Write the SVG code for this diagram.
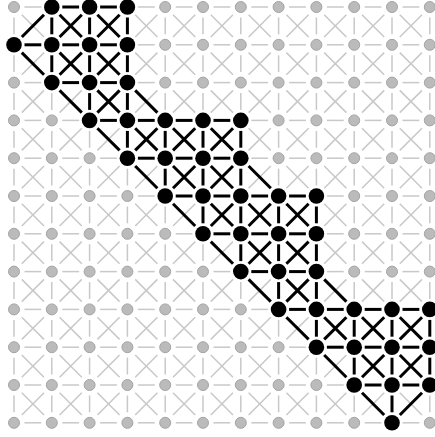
<svg xmlns="http://www.w3.org/2000/svg" width="435" height="437" viewBox="0 0 435 437">
<style>
.g path{stroke:#c8c8c8;stroke-width:1.5;fill:none}
.k path{stroke:#000;stroke-width:3;fill:none}
.gn{fill:#bbbbbb;stroke:#a4a4a4;stroke-width:1}
.bn{fill:#000}
</style>
<rect width="435" height="437" fill="#fff"/>
<g id="connectors">
<g class="g">
<path d="M24.5 7h16.8"/><path d="M137.9 7h16.8"/><path d="M175.7 7h16.8"/><path d="M213.5 7h16.8"/><path d="M251.3 7h16.8"/><path d="M289.1 7h16.8"/><path d="M326.9 7h16.8"/><path d="M364.7 7h16.8"/><path d="M402.5 7h16.8"/>
<path d="M14 17.5v16.8"/><path d="M165.2 17.5v16.8"/><path d="M203 17.5v16.8"/><path d="M240.8 17.5v16.8"/><path d="M278.6 17.5v16.8"/><path d="M316.4 17.5v16.8"/><path d="M354.2 17.5v16.8"/><path d="M392 17.5v16.8"/><path d="M429.8 17.5v16.8"/>
<path d="M21.8 14.8l22.2 22.2"/><path d="M135.2 14.8l22.2 22.2"/><path d="M173 14.8l22.2 22.2"/><path d="M210.8 14.8l22.2 22.2"/><path d="M248.6 14.8l22.2 22.2"/><path d="M286.4 14.8l22.2 22.2"/><path d="M324.2 14.8l22.2 22.2"/><path d="M362 14.8l22.2 22.2"/><path d="M399.8 14.8l22.2 22.2"/>
<path d="M157.4 14.8l-22.2 22.2"/><path d="M195.2 14.8l-22.2 22.2"/><path d="M233 14.8l-22.2 22.2"/><path d="M270.8 14.8l-22.2 22.2"/><path d="M308.6 14.8l-22.2 22.2"/><path d="M346.4 14.8l-22.2 22.2"/><path d="M384.2 14.8l-22.2 22.2"/><path d="M422 14.8l-22.2 22.2"/>

<path d="M137.9 44.8h16.8"/><path d="M175.7 44.8h16.8"/><path d="M213.5 44.8h16.8"/><path d="M251.3 44.8h16.8"/><path d="M289.1 44.8h16.8"/><path d="M326.9 44.8h16.8"/><path d="M364.7 44.8h16.8"/><path d="M402.5 44.8h16.8"/>
<path d="M14 55.3v16.8"/><path d="M165.2 55.3v16.8"/><path d="M203 55.3v16.8"/><path d="M240.8 55.3v16.8"/><path d="M278.6 55.3v16.8"/><path d="M316.4 55.3v16.8"/><path d="M354.2 55.3v16.8"/><path d="M392 55.3v16.8"/><path d="M429.8 55.3v16.8"/>
<path d="M135.2 52.6l22.2 22.2"/><path d="M173 52.6l22.2 22.2"/><path d="M210.8 52.6l22.2 22.2"/><path d="M248.6 52.6l22.2 22.2"/><path d="M286.4 52.6l22.2 22.2"/><path d="M324.2 52.6l22.2 22.2"/><path d="M362 52.6l22.2 22.2"/><path d="M399.8 52.6l22.2 22.2"/>
<path d="M44 52.6l-22.2 22.2"/><path d="M157.4 52.6l-22.2 22.2"/><path d="M195.2 52.6l-22.2 22.2"/><path d="M233 52.6l-22.2 22.2"/><path d="M270.8 52.6l-22.2 22.2"/><path d="M308.6 52.6l-22.2 22.2"/><path d="M346.4 52.6l-22.2 22.2"/><path d="M384.2 52.6l-22.2 22.2"/><path d="M422 52.6l-22.2 22.2"/>

<path d="M24.5 82.6h16.8"/><path d="M137.9 82.6h16.8"/><path d="M175.7 82.6h16.8"/><path d="M213.5 82.6h16.8"/><path d="M251.3 82.6h16.8"/><path d="M289.1 82.6h16.8"/><path d="M326.9 82.6h16.8"/><path d="M364.7 82.6h16.8"/><path d="M402.5 82.6h16.8"/>
<path d="M14 93.1v16.8"/><path d="M51.8 93.1v16.8"/><path d="M165.2 93.1v16.8"/><path d="M203 93.1v16.8"/><path d="M240.8 93.1v16.8"/><path d="M278.6 93.1v16.8"/><path d="M316.4 93.1v16.8"/><path d="M354.2 93.1v16.8"/><path d="M392 93.1v16.8"/><path d="M429.8 93.1v16.8"/>
<path d="M21.8 90.4l22.2 22.2"/><path d="M173 90.4l22.2 22.2"/><path d="M210.8 90.4l22.2 22.2"/><path d="M248.6 90.4l22.2 22.2"/><path d="M286.4 90.4l22.2 22.2"/><path d="M324.2 90.4l22.2 22.2"/><path d="M362 90.4l22.2 22.2"/><path d="M399.8 90.4l22.2 22.2"/>
<path d="M44 90.4l-22.2 22.2"/><path d="M81.8 90.4l-22.2 22.2"/><path d="M157.4 90.4l-22.2 22.2"/><path d="M195.2 90.4l-22.2 22.2"/><path d="M233 90.4l-22.2 22.2"/><path d="M270.8 90.4l-22.2 22.2"/><path d="M308.6 90.4l-22.2 22.2"/><path d="M346.4 90.4l-22.2 22.2"/><path d="M384.2 90.4l-22.2 22.2"/><path d="M422 90.4l-22.2 22.2"/>

<path d="M24.5 120.4h16.8"/><path d="M62.3 120.4h16.8"/><path d="M251.3 120.4h16.8"/><path d="M289.1 120.4h16.8"/><path d="M326.9 120.4h16.8"/><path d="M364.7 120.4h16.8"/><path d="M402.5 120.4h16.8"/>
<path d="M14 130.9v16.8"/><path d="M51.8 130.9v16.8"/><path d="M89.6 130.9v16.8"/><path d="M278.6 130.9v16.8"/><path d="M316.4 130.9v16.8"/><path d="M354.2 130.9v16.8"/><path d="M392 130.9v16.8"/><path d="M429.8 130.9v16.8"/>
<path d="M21.8 128.2l22.2 22.2"/><path d="M59.6 128.2l22.2 22.2"/><path d="M248.6 128.2l22.2 22.2"/><path d="M286.4 128.2l22.2 22.2"/><path d="M324.2 128.2l22.2 22.2"/><path d="M362 128.2l22.2 22.2"/><path d="M399.8 128.2l22.2 22.2"/>
<path d="M44 128.2l-22.2 22.2"/><path d="M81.8 128.2l-22.2 22.2"/><path d="M119.6 128.2l-22.2 22.2"/><path d="M270.8 128.2l-22.2 22.2"/><path d="M308.6 128.2l-22.2 22.2"/><path d="M346.4 128.2l-22.2 22.2"/><path d="M384.2 128.2l-22.2 22.2"/><path d="M422 128.2l-22.2 22.2"/>

<path d="M24.5 158.2h16.8"/><path d="M62.3 158.2h16.8"/><path d="M100.1 158.2h16.8"/><path d="M251.3 158.2h16.8"/><path d="M289.1 158.2h16.8"/><path d="M326.9 158.2h16.8"/><path d="M364.7 158.2h16.8"/><path d="M402.5 158.2h16.8"/>
<path d="M14 168.7v16.8"/><path d="M51.8 168.7v16.8"/><path d="M89.6 168.7v16.8"/><path d="M127.4 168.7v16.8"/><path d="M278.6 168.7v16.8"/><path d="M316.4 168.7v16.8"/><path d="M354.2 168.7v16.8"/><path d="M392 168.7v16.8"/><path d="M429.8 168.7v16.8"/>
<path d="M21.8 166l22.2 22.2"/><path d="M59.6 166l22.2 22.2"/><path d="M97.4 166l22.2 22.2"/><path d="M286.4 166l22.2 22.2"/><path d="M324.2 166l22.2 22.2"/><path d="M362 166l22.2 22.2"/><path d="M399.8 166l22.2 22.2"/>
<path d="M44 166l-22.2 22.2"/><path d="M81.8 166l-22.2 22.2"/><path d="M119.6 166l-22.2 22.2"/><path d="M157.4 166l-22.2 22.2"/><path d="M270.8 166l-22.2 22.2"/><path d="M308.6 166l-22.2 22.2"/><path d="M346.4 166l-22.2 22.2"/><path d="M384.2 166l-22.2 22.2"/><path d="M422 166l-22.2 22.2"/>

<path d="M24.5 196h16.8"/><path d="M62.3 196h16.8"/><path d="M100.1 196h16.8"/><path d="M137.9 196h16.8"/><path d="M326.9 196h16.8"/><path d="M364.7 196h16.8"/><path d="M402.5 196h16.8"/>
<path d="M14 206.5v16.8"/><path d="M51.8 206.5v16.8"/><path d="M89.6 206.5v16.8"/><path d="M127.4 206.5v16.8"/><path d="M165.2 206.5v16.8"/><path d="M354.2 206.5v16.8"/><path d="M392 206.5v16.8"/><path d="M429.8 206.5v16.8"/>
<path d="M21.8 203.8l22.2 22.2"/><path d="M59.6 203.8l22.2 22.2"/><path d="M97.4 203.8l22.2 22.2"/><path d="M135.2 203.8l22.2 22.2"/><path d="M324.2 203.8l22.2 22.2"/><path d="M362 203.8l22.2 22.2"/><path d="M399.8 203.8l22.2 22.2"/>
<path d="M44 203.8l-22.2 22.2"/><path d="M81.8 203.8l-22.2 22.2"/><path d="M119.6 203.8l-22.2 22.2"/><path d="M157.4 203.8l-22.2 22.2"/><path d="M195.2 203.8l-22.2 22.2"/><path d="M346.4 203.8l-22.2 22.2"/><path d="M384.2 203.8l-22.2 22.2"/><path d="M422 203.8l-22.2 22.2"/>

<path d="M24.5 233.8h16.8"/><path d="M62.3 233.8h16.8"/><path d="M100.1 233.8h16.8"/><path d="M137.9 233.8h16.8"/><path d="M175.7 233.8h16.8"/><path d="M326.9 233.8h16.8"/><path d="M364.7 233.8h16.8"/><path d="M402.5 233.8h16.8"/>
<path d="M14 244.3v16.8"/><path d="M51.8 244.3v16.8"/><path d="M89.6 244.3v16.8"/><path d="M127.4 244.3v16.8"/><path d="M165.2 244.3v16.8"/><path d="M203 244.3v16.8"/><path d="M354.2 244.3v16.8"/><path d="M392 244.3v16.8"/><path d="M429.8 244.3v16.8"/>
<path d="M21.8 241.6l22.2 22.2"/><path d="M59.6 241.6l22.2 22.2"/><path d="M97.4 241.6l22.2 22.2"/><path d="M135.2 241.6l22.2 22.2"/><path d="M173 241.6l22.2 22.2"/><path d="M324.2 241.6l22.2 22.2"/><path d="M362 241.6l22.2 22.2"/><path d="M399.8 241.6l22.2 22.2"/>
<path d="M44 241.6l-22.2 22.2"/><path d="M81.8 241.6l-22.2 22.2"/><path d="M119.6 241.6l-22.2 22.2"/><path d="M157.4 241.6l-22.2 22.2"/><path d="M195.2 241.6l-22.2 22.2"/><path d="M233 241.6l-22.2 22.2"/><path d="M346.4 241.6l-22.2 22.2"/><path d="M384.2 241.6l-22.2 22.2"/><path d="M422 241.6l-22.2 22.2"/>

<path d="M24.5 271.6h16.8"/><path d="M62.3 271.6h16.8"/><path d="M100.1 271.6h16.8"/><path d="M137.9 271.6h16.8"/><path d="M175.7 271.6h16.8"/><path d="M213.5 271.6h16.8"/><path d="M326.9 271.6h16.8"/><path d="M364.7 271.6h16.8"/><path d="M402.5 271.6h16.8"/>
<path d="M14 282.1v16.8"/><path d="M51.8 282.1v16.8"/><path d="M89.6 282.1v16.8"/><path d="M127.4 282.1v16.8"/><path d="M165.2 282.1v16.8"/><path d="M203 282.1v16.8"/><path d="M240.8 282.1v16.8"/><path d="M354.2 282.1v16.8"/><path d="M392 282.1v16.8"/><path d="M429.8 282.1v16.8"/>
<path d="M21.8 279.4l22.2 22.2"/><path d="M59.6 279.4l22.2 22.2"/><path d="M97.4 279.4l22.2 22.2"/><path d="M135.2 279.4l22.2 22.2"/><path d="M173 279.4l22.2 22.2"/><path d="M210.8 279.4l22.2 22.2"/><path d="M362 279.4l22.2 22.2"/><path d="M399.8 279.4l22.2 22.2"/>
<path d="M44 279.4l-22.2 22.2"/><path d="M81.8 279.4l-22.2 22.2"/><path d="M119.6 279.4l-22.2 22.2"/><path d="M157.4 279.4l-22.2 22.2"/><path d="M195.2 279.4l-22.2 22.2"/><path d="M233 279.4l-22.2 22.2"/><path d="M270.8 279.4l-22.2 22.2"/><path d="M346.4 279.4l-22.2 22.2"/><path d="M384.2 279.4l-22.2 22.2"/><path d="M422 279.4l-22.2 22.2"/>

<path d="M24.5 309.4h16.8"/><path d="M62.3 309.4h16.8"/><path d="M100.1 309.4h16.8"/><path d="M137.9 309.4h16.8"/><path d="M175.7 309.4h16.8"/><path d="M213.5 309.4h16.8"/><path d="M251.3 309.4h16.8"/>
<path d="M14 319.9v16.8"/><path d="M51.8 319.9v16.8"/><path d="M89.6 319.9v16.8"/><path d="M127.4 319.9v16.8"/><path d="M165.2 319.9v16.8"/><path d="M203 319.9v16.8"/><path d="M240.8 319.9v16.8"/><path d="M278.6 319.9v16.8"/>
<path d="M21.8 317.2l22.2 22.2"/><path d="M59.6 317.2l22.2 22.2"/><path d="M97.4 317.2l22.2 22.2"/><path d="M135.2 317.2l22.2 22.2"/><path d="M173 317.2l22.2 22.2"/><path d="M210.8 317.2l22.2 22.2"/><path d="M248.6 317.2l22.2 22.2"/>
<path d="M44 317.2l-22.2 22.2"/><path d="M81.8 317.2l-22.2 22.2"/><path d="M119.6 317.2l-22.2 22.2"/><path d="M157.4 317.2l-22.2 22.2"/><path d="M195.2 317.2l-22.2 22.2"/><path d="M233 317.2l-22.2 22.2"/><path d="M270.8 317.2l-22.2 22.2"/><path d="M308.6 317.2l-22.2 22.2"/>

<path d="M24.5 347.2h16.8"/><path d="M62.3 347.2h16.8"/><path d="M100.1 347.2h16.8"/><path d="M137.9 347.2h16.8"/><path d="M175.7 347.2h16.8"/><path d="M213.5 347.2h16.8"/><path d="M251.3 347.2h16.8"/><path d="M289.1 347.2h16.8"/>
<path d="M14 357.7v16.8"/><path d="M51.8 357.7v16.8"/><path d="M89.6 357.7v16.8"/><path d="M127.4 357.7v16.8"/><path d="M165.2 357.7v16.8"/><path d="M203 357.7v16.8"/><path d="M240.8 357.7v16.8"/><path d="M278.6 357.7v16.8"/><path d="M316.4 357.7v16.8"/>
<path d="M21.8 355l22.2 22.2"/><path d="M59.6 355l22.2 22.2"/><path d="M97.4 355l22.2 22.2"/><path d="M135.2 355l22.2 22.2"/><path d="M173 355l22.2 22.2"/><path d="M210.8 355l22.2 22.2"/><path d="M248.6 355l22.2 22.2"/><path d="M286.4 355l22.2 22.2"/>
<path d="M44 355l-22.2 22.2"/><path d="M81.8 355l-22.2 22.2"/><path d="M119.6 355l-22.2 22.2"/><path d="M157.4 355l-22.2 22.2"/><path d="M195.2 355l-22.2 22.2"/><path d="M233 355l-22.2 22.2"/><path d="M270.8 355l-22.2 22.2"/><path d="M308.6 355l-22.2 22.2"/><path d="M346.4 355l-22.2 22.2"/>

<path d="M24.5 385h16.8"/><path d="M62.3 385h16.8"/><path d="M100.1 385h16.8"/><path d="M137.9 385h16.8"/><path d="M175.7 385h16.8"/><path d="M213.5 385h16.8"/><path d="M251.3 385h16.8"/><path d="M289.1 385h16.8"/><path d="M326.9 385h16.8"/>
<path d="M14 395.5v16.8"/><path d="M51.8 395.5v16.8"/><path d="M89.6 395.5v16.8"/><path d="M127.4 395.5v16.8"/><path d="M165.2 395.5v16.8"/><path d="M203 395.5v16.8"/><path d="M240.8 395.5v16.8"/><path d="M278.6 395.5v16.8"/><path d="M316.4 395.5v16.8"/><path d="M354.2 395.5v16.8"/><path d="M429.8 395.5v16.8"/>
<path d="M21.8 392.8l22.2 22.2"/><path d="M59.6 392.8l22.2 22.2"/><path d="M97.4 392.8l22.2 22.2"/><path d="M135.2 392.8l22.2 22.2"/><path d="M173 392.8l22.2 22.2"/><path d="M210.8 392.8l22.2 22.2"/><path d="M248.6 392.8l22.2 22.2"/><path d="M286.4 392.8l22.2 22.2"/><path d="M324.2 392.8l22.2 22.2"/><path d="M399.8 392.8l22.2 22.2"/>
<path d="M44 392.8l-22.2 22.2"/><path d="M81.8 392.8l-22.2 22.2"/><path d="M119.6 392.8l-22.2 22.2"/><path d="M157.4 392.8l-22.2 22.2"/><path d="M195.2 392.8l-22.2 22.2"/><path d="M233 392.8l-22.2 22.2"/><path d="M270.8 392.8l-22.2 22.2"/><path d="M308.6 392.8l-22.2 22.2"/><path d="M346.4 392.8l-22.2 22.2"/><path d="M384.2 392.8l-22.2 22.2"/>

<path d="M24.5 422.8h16.8"/><path d="M62.3 422.8h16.8"/><path d="M100.1 422.8h16.8"/><path d="M137.9 422.8h16.8"/><path d="M175.7 422.8h16.8"/><path d="M213.5 422.8h16.8"/><path d="M251.3 422.8h16.8"/><path d="M289.1 422.8h16.8"/><path d="M326.9 422.8h16.8"/><path d="M364.7 422.8h16.8"/><path d="M402.5 422.8h16.8"/>
</g>
<g class="k">
<path d="M62.3 7h16.8"/><path d="M100.1 7h16.8"/>
<path d="M24.5 44.8h16.8"/><path d="M62.3 44.8h16.8"/><path d="M100.1 44.8h16.8"/>
<path d="M62.3 82.6h16.8"/><path d="M100.1 82.6h16.8"/>
<path d="M100.1 120.4h16.8"/><path d="M137.9 120.4h16.8"/><path d="M175.7 120.4h16.8"/><path d="M213.5 120.4h16.8"/>
<path d="M137.9 158.2h16.8"/><path d="M175.7 158.2h16.8"/><path d="M213.5 158.2h16.8"/>
<path d="M175.7 196h16.8"/><path d="M213.5 196h16.8"/><path d="M251.3 196h16.8"/><path d="M289.1 196h16.8"/>
<path d="M213.5 233.8h16.8"/><path d="M251.3 233.8h16.8"/><path d="M289.1 233.8h16.8"/>
<path d="M251.3 271.6h16.8"/><path d="M289.1 271.6h16.8"/>
<path d="M289.1 309.4h16.8"/><path d="M326.9 309.4h16.8"/><path d="M364.7 309.4h16.8"/><path d="M402.5 309.4h16.8"/>
<path d="M326.9 347.2h16.8"/><path d="M364.7 347.2h16.8"/><path d="M402.5 347.2h16.8"/>
<path d="M364.7 385h16.8"/><path d="M402.5 385h16.8"/>

<path d="M51.8 17.5v16.8"/><path d="M89.6 17.5v16.8"/><path d="M127.4 17.5v16.8"/>
<path d="M51.8 55.3v16.8"/><path d="M89.6 55.3v16.8"/><path d="M127.4 55.3v16.8"/>
<path d="M89.6 93.1v16.8"/><path d="M127.4 93.1v16.8"/>
<path d="M127.4 130.9v16.8"/><path d="M165.2 130.9v16.8"/><path d="M203 130.9v16.8"/><path d="M240.8 130.9v16.8"/>
<path d="M165.2 168.7v16.8"/><path d="M203 168.7v16.8"/><path d="M240.8 168.7v16.8"/>
<path d="M203 206.5v16.8"/><path d="M240.8 206.5v16.8"/><path d="M278.6 206.5v16.8"/><path d="M316.4 206.5v16.8"/>
<path d="M240.8 244.3v16.8"/><path d="M278.6 244.3v16.8"/><path d="M316.4 244.3v16.8"/>
<path d="M278.6 282.1v16.8"/><path d="M316.4 282.1v16.8"/>
<path d="M316.4 319.9v16.8"/><path d="M354.2 319.9v16.8"/><path d="M392 319.9v16.8"/><path d="M429.8 319.9v16.8"/>
<path d="M354.2 357.7v16.8"/><path d="M392 357.7v16.8"/><path d="M429.8 357.7v16.8"/>
<path d="M392 395.5v16.8"/>

<path d="M59.6 14.8l22.2 22.2"/><path d="M97.4 14.8l22.2 22.2"/>
<path d="M21.8 52.6l22.2 22.2"/><path d="M59.6 52.6l22.2 22.2"/><path d="M97.4 52.6l22.2 22.2"/>
<path d="M59.6 90.4l22.2 22.2"/><path d="M97.4 90.4l22.2 22.2"/><path d="M135.2 90.4l22.2 22.2"/>
<path d="M97.4 128.2l22.2 22.2"/><path d="M135.2 128.2l22.2 22.2"/><path d="M173 128.2l22.2 22.2"/><path d="M210.8 128.2l22.2 22.2"/>
<path d="M135.2 166l22.2 22.2"/><path d="M173 166l22.2 22.2"/><path d="M210.8 166l22.2 22.2"/><path d="M248.6 166l22.2 22.2"/>
<path d="M173 203.8l22.2 22.2"/><path d="M210.8 203.8l22.2 22.2"/><path d="M248.6 203.8l22.2 22.2"/><path d="M286.4 203.8l22.2 22.2"/>
<path d="M210.8 241.6l22.2 22.2"/><path d="M248.6 241.6l22.2 22.2"/><path d="M286.4 241.6l22.2 22.2"/>
<path d="M248.6 279.4l22.2 22.2"/><path d="M286.4 279.4l22.2 22.2"/><path d="M324.2 279.4l22.2 22.2"/>
<path d="M286.4 317.2l22.2 22.2"/><path d="M324.2 317.2l22.2 22.2"/><path d="M362 317.2l22.2 22.2"/><path d="M399.8 317.2l22.2 22.2"/>
<path d="M324.2 355l22.2 22.2"/><path d="M362 355l22.2 22.2"/><path d="M399.8 355l22.2 22.2"/>
<path d="M362 392.8l22.2 22.2"/>

<path d="M44 14.8l-22.2 22.2"/><path d="M81.8 14.8l-22.2 22.2"/><path d="M119.6 14.8l-22.2 22.2"/>
<path d="M81.8 52.6l-22.2 22.2"/><path d="M119.6 52.6l-22.2 22.2"/>
<path d="M119.6 90.4l-22.2 22.2"/>
<path d="M157.4 128.2l-22.2 22.2"/><path d="M195.2 128.2l-22.2 22.2"/><path d="M233 128.2l-22.2 22.2"/>
<path d="M195.2 166l-22.2 22.2"/><path d="M233 166l-22.2 22.2"/>
<path d="M233 203.8l-22.2 22.2"/><path d="M270.8 203.8l-22.2 22.2"/><path d="M308.6 203.8l-22.2 22.2"/>
<path d="M270.8 241.6l-22.2 22.2"/><path d="M308.6 241.6l-22.2 22.2"/>
<path d="M308.6 279.4l-22.2 22.2"/>
<path d="M346.4 317.2l-22.2 22.2"/><path d="M384.2 317.2l-22.2 22.2"/><path d="M422 317.2l-22.2 22.2"/>
<path d="M384.2 355l-22.2 22.2"/><path d="M422 355l-22.2 22.2"/>
<path d="M422 392.8l-22.2 22.2"/>
</g>
</g>
<g id="nodes">
<g id="n0-0"><circle class="gn" cx="14" cy="7" r="5.5"/></g>
<g id="n0-1"><circle class="bn" cx="51.8" cy="7" r="7.8"/></g>
<g id="n0-2"><circle class="bn" cx="89.6" cy="7" r="7.8"/></g>
<g id="n0-3"><circle class="bn" cx="127.4" cy="7" r="7.8"/></g>
<g id="n0-4"><circle class="gn" cx="165.2" cy="7" r="5.5"/></g>
<g id="n0-5"><circle class="gn" cx="203" cy="7" r="5.5"/></g>
<g id="n0-6"><circle class="gn" cx="240.8" cy="7" r="5.5"/></g>
<g id="n0-7"><circle class="gn" cx="278.6" cy="7" r="5.5"/></g>
<g id="n0-8"><circle class="gn" cx="316.4" cy="7" r="5.5"/></g>
<g id="n0-9"><circle class="gn" cx="354.2" cy="7" r="5.5"/></g>
<g id="n0-10"><circle class="gn" cx="392" cy="7" r="5.5"/></g>
<g id="n0-11"><circle class="gn" cx="429.8" cy="7" r="5.5"/></g>

<g id="n1-0"><circle class="bn" cx="14" cy="44.8" r="7.8"/></g>
<g id="n1-1"><circle class="bn" cx="51.8" cy="44.8" r="7.8"/></g>
<g id="n1-2"><circle class="bn" cx="89.6" cy="44.8" r="7.8"/></g>
<g id="n1-3"><circle class="bn" cx="127.4" cy="44.8" r="7.8"/></g>
<g id="n1-4"><circle class="gn" cx="165.2" cy="44.8" r="5.5"/></g>
<g id="n1-5"><circle class="gn" cx="203" cy="44.8" r="5.5"/></g>
<g id="n1-6"><circle class="gn" cx="240.8" cy="44.8" r="5.5"/></g>
<g id="n1-7"><circle class="gn" cx="278.6" cy="44.8" r="5.5"/></g>
<g id="n1-8"><circle class="gn" cx="316.4" cy="44.8" r="5.5"/></g>
<g id="n1-9"><circle class="gn" cx="354.2" cy="44.8" r="5.5"/></g>
<g id="n1-10"><circle class="gn" cx="392" cy="44.8" r="5.5"/></g>
<g id="n1-11"><circle class="gn" cx="429.8" cy="44.8" r="5.5"/></g>

<g id="n2-0"><circle class="gn" cx="14" cy="82.6" r="5.5"/></g>
<g id="n2-1"><circle class="bn" cx="51.8" cy="82.6" r="7.8"/></g>
<g id="n2-2"><circle class="bn" cx="89.6" cy="82.6" r="7.8"/></g>
<g id="n2-3"><circle class="bn" cx="127.4" cy="82.6" r="7.8"/></g>
<g id="n2-4"><circle class="gn" cx="165.2" cy="82.6" r="5.5"/></g>
<g id="n2-5"><circle class="gn" cx="203" cy="82.6" r="5.5"/></g>
<g id="n2-6"><circle class="gn" cx="240.8" cy="82.6" r="5.5"/></g>
<g id="n2-7"><circle class="gn" cx="278.6" cy="82.6" r="5.5"/></g>
<g id="n2-8"><circle class="gn" cx="316.4" cy="82.6" r="5.5"/></g>
<g id="n2-9"><circle class="gn" cx="354.2" cy="82.6" r="5.5"/></g>
<g id="n2-10"><circle class="gn" cx="392" cy="82.6" r="5.5"/></g>
<g id="n2-11"><circle class="gn" cx="429.8" cy="82.6" r="5.5"/></g>

<g id="n3-0"><circle class="gn" cx="14" cy="120.4" r="5.5"/></g>
<g id="n3-1"><circle class="gn" cx="51.8" cy="120.4" r="5.5"/></g>
<g id="n3-2"><circle class="bn" cx="89.6" cy="120.4" r="7.8"/></g>
<g id="n3-3"><circle class="bn" cx="127.4" cy="120.4" r="7.8"/></g>
<g id="n3-4"><circle class="bn" cx="165.2" cy="120.4" r="7.8"/></g>
<g id="n3-5"><circle class="bn" cx="203" cy="120.4" r="7.8"/></g>
<g id="n3-6"><circle class="bn" cx="240.8" cy="120.4" r="7.8"/></g>
<g id="n3-7"><circle class="gn" cx="278.6" cy="120.4" r="5.5"/></g>
<g id="n3-8"><circle class="gn" cx="316.4" cy="120.4" r="5.5"/></g>
<g id="n3-9"><circle class="gn" cx="354.2" cy="120.4" r="5.5"/></g>
<g id="n3-10"><circle class="gn" cx="392" cy="120.4" r="5.5"/></g>
<g id="n3-11"><circle class="gn" cx="429.8" cy="120.4" r="5.5"/></g>

<g id="n4-0"><circle class="gn" cx="14" cy="158.2" r="5.5"/></g>
<g id="n4-1"><circle class="gn" cx="51.8" cy="158.2" r="5.5"/></g>
<g id="n4-2"><circle class="gn" cx="89.6" cy="158.2" r="5.5"/></g>
<g id="n4-3"><circle class="bn" cx="127.4" cy="158.2" r="7.8"/></g>
<g id="n4-4"><circle class="bn" cx="165.2" cy="158.2" r="7.8"/></g>
<g id="n4-5"><circle class="bn" cx="203" cy="158.2" r="7.8"/></g>
<g id="n4-6"><circle class="bn" cx="240.8" cy="158.2" r="7.8"/></g>
<g id="n4-7"><circle class="gn" cx="278.6" cy="158.2" r="5.5"/></g>
<g id="n4-8"><circle class="gn" cx="316.4" cy="158.2" r="5.5"/></g>
<g id="n4-9"><circle class="gn" cx="354.2" cy="158.2" r="5.5"/></g>
<g id="n4-10"><circle class="gn" cx="392" cy="158.2" r="5.5"/></g>
<g id="n4-11"><circle class="gn" cx="429.8" cy="158.2" r="5.5"/></g>

<g id="n5-0"><circle class="gn" cx="14" cy="196" r="5.5"/></g>
<g id="n5-1"><circle class="gn" cx="51.8" cy="196" r="5.5"/></g>
<g id="n5-2"><circle class="gn" cx="89.6" cy="196" r="5.5"/></g>
<g id="n5-3"><circle class="gn" cx="127.4" cy="196" r="5.5"/></g>
<g id="n5-4"><circle class="bn" cx="165.2" cy="196" r="7.8"/></g>
<g id="n5-5"><circle class="bn" cx="203" cy="196" r="7.8"/></g>
<g id="n5-6"><circle class="bn" cx="240.8" cy="196" r="7.8"/></g>
<g id="n5-7"><circle class="bn" cx="278.6" cy="196" r="7.8"/></g>
<g id="n5-8"><circle class="bn" cx="316.4" cy="196" r="7.8"/></g>
<g id="n5-9"><circle class="gn" cx="354.2" cy="196" r="5.5"/></g>
<g id="n5-10"><circle class="gn" cx="392" cy="196" r="5.5"/></g>
<g id="n5-11"><circle class="gn" cx="429.8" cy="196" r="5.5"/></g>

<g id="n6-0"><circle class="gn" cx="14" cy="233.8" r="5.5"/></g>
<g id="n6-1"><circle class="gn" cx="51.8" cy="233.8" r="5.5"/></g>
<g id="n6-2"><circle class="gn" cx="89.6" cy="233.8" r="5.5"/></g>
<g id="n6-3"><circle class="gn" cx="127.4" cy="233.8" r="5.5"/></g>
<g id="n6-4"><circle class="gn" cx="165.2" cy="233.8" r="5.5"/></g>
<g id="n6-5"><circle class="bn" cx="203" cy="233.8" r="7.8"/></g>
<g id="n6-6"><circle class="bn" cx="240.8" cy="233.8" r="7.8"/></g>
<g id="n6-7"><circle class="bn" cx="278.6" cy="233.8" r="7.8"/></g>
<g id="n6-8"><circle class="bn" cx="316.4" cy="233.8" r="7.8"/></g>
<g id="n6-9"><circle class="gn" cx="354.2" cy="233.8" r="5.5"/></g>
<g id="n6-10"><circle class="gn" cx="392" cy="233.8" r="5.5"/></g>
<g id="n6-11"><circle class="gn" cx="429.8" cy="233.8" r="5.5"/></g>

<g id="n7-0"><circle class="gn" cx="14" cy="271.6" r="5.5"/></g>
<g id="n7-1"><circle class="gn" cx="51.8" cy="271.6" r="5.5"/></g>
<g id="n7-2"><circle class="gn" cx="89.6" cy="271.6" r="5.5"/></g>
<g id="n7-3"><circle class="gn" cx="127.4" cy="271.6" r="5.5"/></g>
<g id="n7-4"><circle class="gn" cx="165.2" cy="271.6" r="5.5"/></g>
<g id="n7-5"><circle class="gn" cx="203" cy="271.6" r="5.5"/></g>
<g id="n7-6"><circle class="bn" cx="240.8" cy="271.6" r="7.8"/></g>
<g id="n7-7"><circle class="bn" cx="278.6" cy="271.6" r="7.8"/></g>
<g id="n7-8"><circle class="bn" cx="316.4" cy="271.6" r="7.8"/></g>
<g id="n7-9"><circle class="gn" cx="354.2" cy="271.6" r="5.5"/></g>
<g id="n7-10"><circle class="gn" cx="392" cy="271.6" r="5.5"/></g>
<g id="n7-11"><circle class="gn" cx="429.8" cy="271.6" r="5.5"/></g>

<g id="n8-0"><circle class="gn" cx="14" cy="309.4" r="5.5"/></g>
<g id="n8-1"><circle class="gn" cx="51.8" cy="309.4" r="5.5"/></g>
<g id="n8-2"><circle class="gn" cx="89.6" cy="309.4" r="5.5"/></g>
<g id="n8-3"><circle class="gn" cx="127.4" cy="309.4" r="5.5"/></g>
<g id="n8-4"><circle class="gn" cx="165.2" cy="309.4" r="5.5"/></g>
<g id="n8-5"><circle class="gn" cx="203" cy="309.4" r="5.5"/></g>
<g id="n8-6"><circle class="gn" cx="240.8" cy="309.4" r="5.5"/></g>
<g id="n8-7"><circle class="bn" cx="278.6" cy="309.4" r="7.8"/></g>
<g id="n8-8"><circle class="bn" cx="316.4" cy="309.4" r="7.8"/></g>
<g id="n8-9"><circle class="bn" cx="354.2" cy="309.4" r="7.8"/></g>
<g id="n8-10"><circle class="bn" cx="392" cy="309.4" r="7.8"/></g>
<g id="n8-11"><circle class="bn" cx="429.8" cy="309.4" r="7.8"/></g>

<g id="n9-0"><circle class="gn" cx="14" cy="347.2" r="5.5"/></g>
<g id="n9-1"><circle class="gn" cx="51.8" cy="347.2" r="5.5"/></g>
<g id="n9-2"><circle class="gn" cx="89.6" cy="347.2" r="5.5"/></g>
<g id="n9-3"><circle class="gn" cx="127.4" cy="347.2" r="5.5"/></g>
<g id="n9-4"><circle class="gn" cx="165.2" cy="347.2" r="5.5"/></g>
<g id="n9-5"><circle class="gn" cx="203" cy="347.2" r="5.5"/></g>
<g id="n9-6"><circle class="gn" cx="240.8" cy="347.2" r="5.5"/></g>
<g id="n9-7"><circle class="gn" cx="278.6" cy="347.2" r="5.5"/></g>
<g id="n9-8"><circle class="bn" cx="316.4" cy="347.2" r="7.8"/></g>
<g id="n9-9"><circle class="bn" cx="354.2" cy="347.2" r="7.8"/></g>
<g id="n9-10"><circle class="bn" cx="392" cy="347.2" r="7.8"/></g>
<g id="n9-11"><circle class="bn" cx="429.8" cy="347.2" r="7.8"/></g>

<g id="n10-0"><circle class="gn" cx="14" cy="385" r="5.5"/></g>
<g id="n10-1"><circle class="gn" cx="51.8" cy="385" r="5.5"/></g>
<g id="n10-2"><circle class="gn" cx="89.6" cy="385" r="5.5"/></g>
<g id="n10-3"><circle class="gn" cx="127.4" cy="385" r="5.5"/></g>
<g id="n10-4"><circle class="gn" cx="165.2" cy="385" r="5.5"/></g>
<g id="n10-5"><circle class="gn" cx="203" cy="385" r="5.5"/></g>
<g id="n10-6"><circle class="gn" cx="240.8" cy="385" r="5.5"/></g>
<g id="n10-7"><circle class="gn" cx="278.6" cy="385" r="5.5"/></g>
<g id="n10-8"><circle class="gn" cx="316.4" cy="385" r="5.5"/></g>
<g id="n10-9"><circle class="bn" cx="354.2" cy="385" r="7.8"/></g>
<g id="n10-10"><circle class="bn" cx="392" cy="385" r="7.8"/></g>
<g id="n10-11"><circle class="bn" cx="429.8" cy="385" r="7.8"/></g>

<g id="n11-0"><circle class="gn" cx="14" cy="422.8" r="5.5"/></g>
<g id="n11-1"><circle class="gn" cx="51.8" cy="422.8" r="5.5"/></g>
<g id="n11-2"><circle class="gn" cx="89.6" cy="422.8" r="5.5"/></g>
<g id="n11-3"><circle class="gn" cx="127.4" cy="422.8" r="5.5"/></g>
<g id="n11-4"><circle class="gn" cx="165.2" cy="422.8" r="5.5"/></g>
<g id="n11-5"><circle class="gn" cx="203" cy="422.8" r="5.5"/></g>
<g id="n11-6"><circle class="gn" cx="240.8" cy="422.8" r="5.5"/></g>
<g id="n11-7"><circle class="gn" cx="278.6" cy="422.8" r="5.5"/></g>
<g id="n11-8"><circle class="gn" cx="316.4" cy="422.8" r="5.5"/></g>
<g id="n11-9"><circle class="gn" cx="354.2" cy="422.8" r="5.5"/></g>
<g id="n11-10"><circle class="bn" cx="392" cy="422.8" r="7.8"/></g>
<g id="n11-11"><circle class="gn" cx="429.8" cy="422.8" r="5.5"/></g>
</g>
</svg>
